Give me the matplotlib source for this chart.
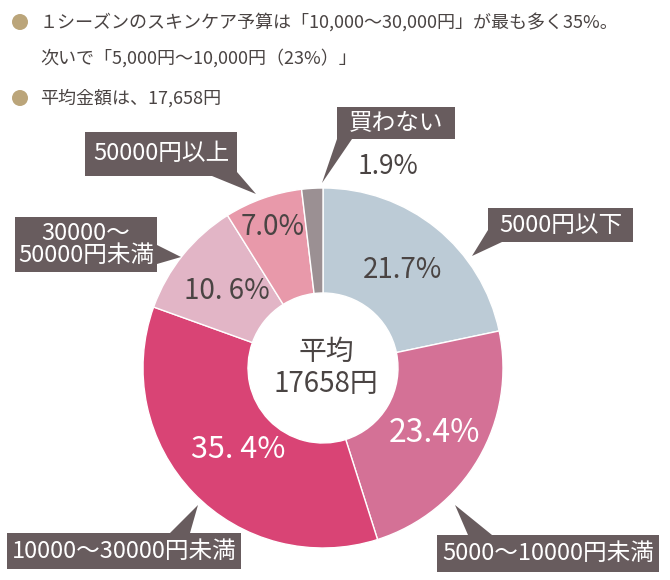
import numpy as np
import matplotlib
matplotlib.use('Agg')
from matplotlib import pyplot as plt
from matplotlib.patches import Rectangle, Polygon, Circle

plt.rcParams['font.family'] = ['Noto Sans CJK JP', 'DejaVu Sans']

# data (clockwise from 12 o'clock)
categories = ['5000円以下', '5000〜10000円未満', '10000〜30000円未満',
              '30000〜\n50000円未満', '50000円以上', '買わない']
shares = [21.7, 23.4, 35.4, 10.6, 7.0, 1.9]
pct_labels = ['21.7%', '23.4%', '35. 4%', '10. 6%', '7.0%', '1.9%']
colors = ['#bccbd6', '#d47196', '#d94475', '#e2b5c6', '#e899aa', '#9b9093']
avg_text = '平均\n17658円'
note_lines = ['１シーズンのスキンケア予算は「10,000〜30,000円」が最も多く35%。',
              '次いで「5,000円〜10,000円（23%）」',
              '平均金額は、17,658円']

TEXT = '#4a4443'
BOX = '#685c5e'
cx, cy, R = 323, 368, 180

fig = plt.figure(figsize=(6.7, 5.8), dpi=100)
ax = fig.add_axes([0, 0, 1, 1])

wedges, _ = ax.pie(shares, colors=colors, startangle=-90, counterclock=True,
                   radius=R, center=(cx, cy),
                   wedgeprops=dict(width=R - 75, edgecolor='white', linewidth=1))
ax.set_xlim(0, 670)
ax.set_ylim(580, 0)
ax.set_aspect('equal')
ax.axis('off')

# percentage labels inside the ring
label_r = [126, 129, 118, 123, 150]
label_style = [(TEXT, 20), ('white', 23), ('white', 22), (TEXT, 20), (TEXT, 20)]
for w, txt, r, (c, fs) in zip(wedges, pct_labels, label_r, label_style):
    th = np.deg2rad((w.theta1 + w.theta2) / 2)
    ax.text(cx + r * np.cos(th), cy + r * np.sin(th), txt, color=c, fontsize=fs,
            ha='center', va='center')
ax.text(388, 167, pct_labels[5], color=TEXT, fontsize=19, ha='center', va='center')

ax.text(cx + 3, cy, avg_text, color=TEXT, fontsize=20, ha='center', va='center',
        linespacing=1.1)

# callout boxes: (x0, y0, x1, y1), tail triangle
callouts = [
    ((488, 208, 633, 242), [(488, 230), (502, 242), (472, 256)]),
    ((437, 535, 659, 572), [(468, 535), (492, 535), (455, 505)]),
    ((7, 533, 241, 569), [(170, 533), (190, 533), (198, 505)]),
    ((15, 217, 157, 272), [(157, 245), (157, 264), (181, 257)]),
    ((85, 132, 237, 176), [(212, 176), (237, 172), (256, 194)]),
    ((337, 107, 455, 139), [(337, 139), (352, 139), (322, 183)]),
]
for (x0, y0, x1, y1), tail in callouts:
    ax.add_patch(Rectangle((x0, y0), x1 - x0, y1 - y0, color=BOX, lw=0))
    ax.add_patch(Polygon(tail, closed=True, color=BOX, lw=0))
for cat, ((x0, y0, x1, y1), _) in zip(categories, callouts):
    ax.text((x0 + x1) / 2, (y0 + y1) / 2, cat, color='white', fontsize=17,
            ha='center', va='center', linespacing=1.0)

# header notes
for by in [22, 98]:
    ax.add_patch(Circle((20, by), 8, color='#bba57a', lw=0))
for y, line in zip([22, 58, 98], note_lines):
    ax.text(40, y, line, color=TEXT, fontsize=13, ha='left', va='center')

fig.savefig('out.png', dpi=100)
